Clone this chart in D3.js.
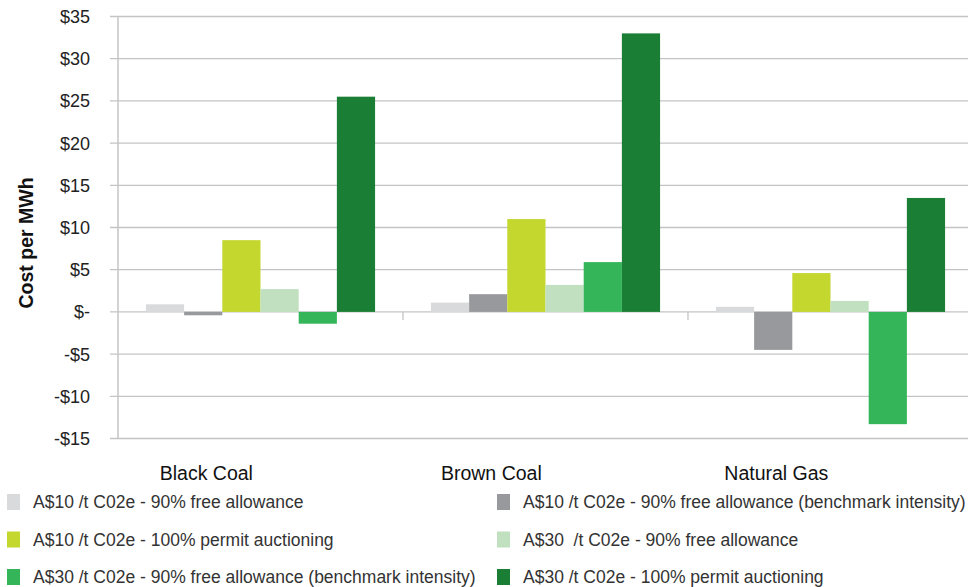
<!DOCTYPE html>
<html>
<head>
<meta charset="utf-8">
<script src="https://cdn.jsdelivr.net/npm/d3@7"></script>
<style>
  body { margin: 0; background: #fff; }
  svg { display: block; font-family: "Liberation Sans", Arial, sans-serif; }
</style>
</head>
<body>
<svg id="chart" width="968" height="587"></svg>
<script>
const categories = ["Black Coal", "Brown Coal", "Natural Gas"];
const seriesNames = [
    "A$10 /t C02e - 90% free allowance",
    "A$10 /t C02e - 90% free allowance (benchmark intensity)",
    "A$10 /t C02e - 100% permit auctioning",
    "A$30  /t C02e - 90% free allowance",
    "A$30 /t C02e - 90% free allowance (benchmark intensity)",
    "A$30 /t C02e - 100% permit auctioning"
];
// one array per series, values for Black Coal, Brown Coal, Natural Gas
const s10Free = [0.9, 1.1, 0.6];
const s10Bench = [-0.4, 2.1, -4.5];
const s10Auction = [8.5, 11.0, 4.6];
const s30Free = [2.7, 3.2, 1.3];
const s30Bench = [-1.4, 5.9, -13.3];
const s30Auction = [25.5, 33.0, 13.5];
const seriesValues = [s10Free, s10Bench, s10Auction, s30Free, s30Bench, s30Auction];
const seriesColors = ["#d9dadb", "#98999c", "#c3d72f", "#c0e0bf", "#34b559", "#1a7f35"];
const yTicks = [-15, -10, -5, 0, 5, 10, 15, 20, 25, 30, 35];

const svg = d3.select("#chart");
const margin = { left: 118, top: 16.5, bottom: 438.5 };
const gridColor = "#c4c4c6";

const y = d3.scaleLinear().domain([-15, 35]).range([margin.bottom, margin.top]);
const x0 = d3.scaleBand().domain(categories).range([margin.left, 973]).padding(0);
const bw = x0.bandwidth();
const x1 = d3.scaleBand().domain(d3.range(seriesNames.length))
    .range([bw * 0.098, bw * 0.902]).padding(0);

// gridlines
svg.append("g").selectAll("line")
    .data(yTicks)
    .join("line")
    .attr("x1", margin.left - 8)
    .attr("x2", 968)
    .attr("y1", d => y(d))
    .attr("y2", d => y(d))
    .attr("stroke", gridColor)
    .attr("stroke-width", 1.3);

// y tick labels
svg.append("g").selectAll("text")
    .data(yTicks)
    .join("text")
    .attr("x", 90)
    .attr("y", d => y(d))
    .attr("dy", "0.36em")
    .attr("text-anchor", "end")
    .attr("font-size", 18)
    .attr("fill", "#222")
    .text(d => d === 0 ? "$-" : (d < 0 ? "-$" + Math.abs(d) : "$" + d));

// y axis line
svg.append("line")
    .attr("x1", margin.left).attr("x2", margin.left)
    .attr("y1", y(35)).attr("y2", y(-15))
    .attr("stroke", gridColor).attr("stroke-width", 1.5);

// category separators on zero line
svg.append("g").selectAll("line")
    .data(categories.slice(1))
    .join("line")
    .attr("x1", d => x0(d)).attr("x2", d => x0(d))
    .attr("y1", y(0)).attr("y2", y(0) + 8)
    .attr("stroke", gridColor).attr("stroke-width", 1.3);

// bars
const groups = svg.append("g").selectAll("g")
    .data(categories)
    .join("g")
    .attr("transform", d => `translate(${x0(d)},0)`);

groups.selectAll("rect")
    .data((c, ci) => seriesValues.map((vals, si) => ({ si, v: vals[ci] })))
    .join("rect")
    .attr("x", d => x1(d.si))
    .attr("width", x1.bandwidth())
    .attr("y", d => y(Math.max(0, d.v)))
    .attr("height", d => Math.abs(y(d.v) - y(0)))
    .attr("fill", d => seriesColors[d.si]);

// category labels (sit left of the band centre, as in the source)
svg.append("g").selectAll("text")
    .data(categories)
    .join("text")
    .attr("x", d => x0(d) + bw * 0.31)
    .attr("y", 480)
    .attr("text-anchor", "middle")
    .attr("font-size", 19.5)
    .attr("fill", "#111")
    .text(d => d);

// y title
svg.append("text")
    .attr("transform", `translate(33, 243) rotate(-90)`)
    .attr("text-anchor", "middle")
    .attr("font-size", 19.5)
    .attr("font-weight", "bold")
    .attr("fill", "#111")
    .text("Cost per MWh");

// legend
const legend = svg.append("g").selectAll("g")
    .data(seriesNames)
    .join("g")
    .attr("transform", (d, i) => `translate(${i % 2 === 0 ? 7 : 497}, ${502 + Math.floor(i / 2) * 37.5})`);

legend.append("rect")
    .attr("x", 0).attr("y", -8)
    .attr("width", 13).attr("height", 16)
    .attr("fill", (d, i) => seriesColors[i]);

legend.append("text")
    .attr("x", 26)
    .attr("dy", "0.35em")
    .attr("font-size", 17.5)
    .attr("fill", "#333")
    .attr("xml:space", "preserve")
    .style("white-space", "pre")
    .text(d => d);
</script>
</body>
</html>
